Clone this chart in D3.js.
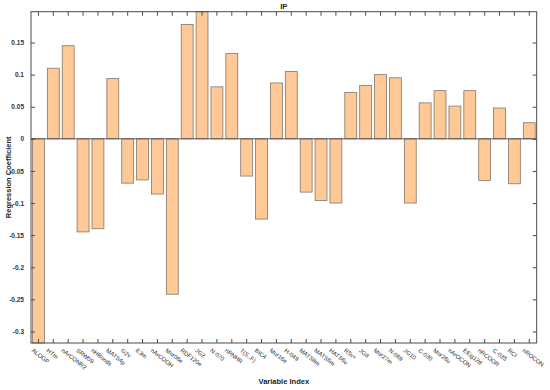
<!DOCTYPE html>
<html>
<head>
<meta charset="utf-8">
<script src="https://cdn.jsdelivr.net/npm/d3@7"></script>
<style>
  body { margin: 0; background: #fff; }
  svg { display: block; font-family: "Liberation Sans", Arial, Helvetica, sans-serif; }
</style>
</head>
<body>
<script>
// variable names along the x axis
const variables = ["ALOGP", "HTm", "nArCONR2", "SRW09", "nHBonds", "MATS4p", "G2v", "E3m",
  "nArCOOH", "Mor06e", "RDF120e", "JG2", "N-070", "nRNHR", "T(S..F)", "BIC4", "Mor16e",
  "H-049", "MATS8m", "MATS6m", "HATS6u", "R5v+", "JG8", "Mor27m", "N-069", "JG10", "C-030",
  "Mor26u", "nArOCON", "EEig12d", "nRCOOR", "C-035", "RCI", "nROCON"];

// regression coefficient for each variable
const coefficients = [-0.318, 0.110, 0.145, -0.145, -0.140, 0.094, -0.069, -0.064,
  -0.086, -0.242, 0.178, 0.198, 0.081, 0.133, -0.058, -0.125, 0.087,
  0.105, -0.083, -0.096, -0.100, 0.072, 0.083, 0.100, 0.095, -0.100, 0.056,
  0.075, 0.051, 0.075, -0.065, 0.048, -0.070, 0.025];

const yTicks = [0.15, 0.1, 0.05, 0, -0.05, -0.1, -0.15, -0.2, -0.25, -0.3];

const width = 550, height = 390;
const margin = {top: 11.7, right: 13.3, bottom: 47, left: 31};
const w = width - margin.left - margin.right;
const h = height - margin.top - margin.bottom;
const axisColor = "#4a4a4a";

const svg = d3.select("body").append("svg")
  .attr("width", width)
  .attr("height", height);

const g = svg.append("g")
  .attr("transform", "translate(" + margin.left + "," + margin.top + ")");

// scales - axis is tight to the data like the original
const x = d3.scaleBand()
  .domain(variables)
  .range([0, w])
  .paddingInner(0.2)
  .paddingOuter(0.1);

const y = d3.scaleLinear()
  .domain(d3.extent(coefficients))
  .range([h, 0]);

// bars
g.selectAll("rect.bar")
  .data(variables)
  .join("rect")
  .attr("class", "bar")
  .attr("x", d => x(d))
  .attr("width", x.bandwidth())
  .attr("y", (d, i) => y(Math.max(0, coefficients[i])))
  .attr("height", (d, i) => Math.abs(y(coefficients[i]) - y(0)))
  .attr("fill", "#fec996")
  .attr("stroke", "#877666")
  .attr("stroke-width", 0.8);

// baseline at zero
g.append("line")
  .attr("x1", 0).attr("x2", w)
  .attr("y1", y(0)).attr("y2", y(0))
  .attr("stroke", axisColor)
  .attr("stroke-width", 0.9);

// box
g.append("rect")
  .attr("width", w).attr("height", h)
  .attr("fill", "none")
  .attr("stroke", axisColor)
  .attr("stroke-width", 1);

const fmt = v => String(+v.toFixed(2));

// left axis (ticks inward)
const leftAxis = g.append("g")
  .call(d3.axisLeft(y).tickValues(yTicks).tickSize(-4).tickPadding(7).tickFormat(fmt));
leftAxis.select(".domain").remove();
leftAxis.selectAll("line").attr("stroke", axisColor);
leftAxis.selectAll("text")
  .attr("font-size", 6.5)
  .attr("font-weight", "bold")
  .attr("fill", "#333");

// right axis ticks
const rightAxis = g.append("g")
  .attr("transform", "translate(" + w + ",0)")
  .call(d3.axisRight(y).tickValues(yTicks).tickSize(-4).tickFormat(""));
rightAxis.select(".domain").remove();
rightAxis.selectAll("line").attr("stroke", axisColor);

// top and bottom ticks
const topAxis = g.append("g")
  .call(d3.axisTop(x).tickSize(-4).tickFormat(""));
topAxis.select(".domain").remove();
topAxis.selectAll("line").attr("stroke", axisColor);

const bottomAxis = g.append("g")
  .attr("transform", "translate(0," + h + ")")
  .call(d3.axisBottom(x).tickSize(-4).tickFormat(""));
bottomAxis.select(".domain").remove();
bottomAxis.selectAll("line").attr("stroke", axisColor);

// rotated x tick labels
g.selectAll("text.xlab")
  .data(variables)
  .join("text")
  .attr("class", "xlab")
  .attr("transform", d => "translate(" + (x(d) + x.bandwidth() / 2 - 4.6) + "," + (h + 5) + ") rotate(38)")
  .attr("dy", "0.71em")
  .attr("font-size", 5.9)
  .attr("fill", "#2a2a2a")
  .text(d => d);

// title
svg.append("text")
  .attr("x", margin.left + w / 2)
  .attr("y", 9)
  .attr("text-anchor", "middle")
  .attr("font-size", 7.7)
  .attr("font-weight", "bold")
  .attr("fill", "#222")
  .text("IP");

// axis labels
svg.append("text")
  .attr("x", margin.left + w / 2)
  .attr("y", 384)
  .attr("text-anchor", "middle")
  .attr("font-size", 7.5)
  .attr("font-weight", "bold")
  .attr("fill", "#222")
  .text("Variable Index");

svg.append("text")
  .attr("transform", "translate(11," + (margin.top + h / 2) + ") rotate(-90)")
  .attr("text-anchor", "middle")
  .attr("font-size", 7.5)
  .attr("font-weight", "bold")
  .attr("fill", "#222")
  .text("Regression Coefficient");
</script>
</body>
</html>
